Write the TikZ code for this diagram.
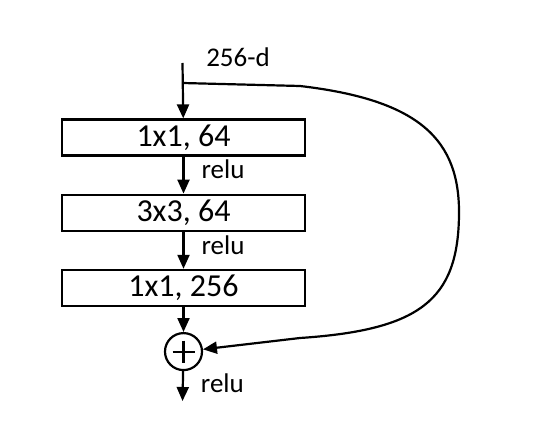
\documentclass[tikz,border=0pt]{standalone}
\usepackage{fontspec}
\setmainfont{Carlito}
\usetikzlibrary{arrows.meta, positioning, calc}

\begin{document}
\begin{tikzpicture}[
      x=1pt, y=-1pt,
      node distance=37pt,
      every node/.style={font=\fontsize{27}{32}\selectfont},
      layer/.style={rectangle, draw, line width=2.2pt, minimum width=243pt, minimum height=36pt, inner sep=0pt, font=\fontsize{32}{36}\selectfont},
      arrow/.style={-{Triangle[length=14pt, width=12pt]}, line width=2.2pt},
      act/.style={right, inner sep=0pt, xshift=17pt, font=\fontsize{27}{30}\selectfont}
    ]
    \useasboundingbox (0,0) rectangle (535,438);

    \node[layer] (conv1) at (183.5,137.5) {1x1, 64};
    \node[layer, below=of conv1] (conv2) {3x3, 64};
    \node[layer, below=of conv2] (conv3) {1x1, 256};
    \node[circle, draw, line width=2.2pt, minimum size=37pt, inner sep=0pt, below=25pt of conv3] (sum) {};
    \draw[line width=2.2pt] ($(sum)+(-11,0)$) -- ($(sum)+(11,0)$) ($(sum)+(0,-11)$) -- ($(sum)+(0,11)$);

    \node (dim) at (238,57) {256-d};
    \coordinate (in) at (182.5,63);
    \coordinate (split) at (182.5,83);
    \coordinate (out) at (182.5,401);

    \draw[arrow] (in) -- (conv1);
    \draw[arrow] (conv1) -- node[act, pos=0.35] {relu} (conv2);
    \draw[arrow] (conv2) -- node[act, pos=0.35] {relu} (conv3);
    \draw[arrow] (conv3) -- (sum);
    \draw[arrow] (sum) -- node[act, pos=0.4] {relu} (out);

    % shortcut
    \draw[arrow] (split) -- (300,86) .. controls (420,100) and (460,140) .. (459,215)
      .. controls (458,300) and (420,330) .. (300,338) -- (sum);
  \end{tikzpicture}
\end{document}
